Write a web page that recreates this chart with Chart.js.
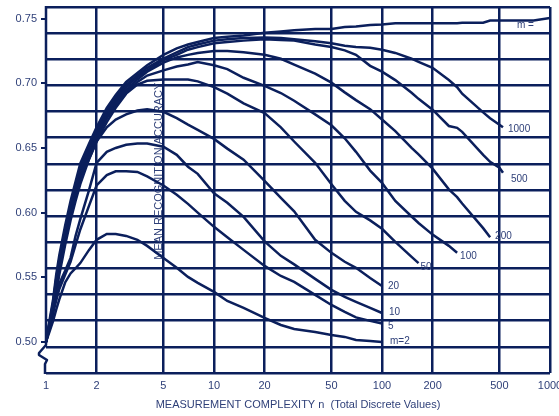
<!DOCTYPE html>
<html>
<head>
<meta charset="utf-8">
<script src="https://cdn.jsdelivr.net/npm/chart.js@4.4.1/dist/chart.umd.min.js"></script>
<style>
  html, body { margin: 0; padding: 0; background: #fff; }
  #wrap { width: 559px; height: 416px; }
</style>
</head>
<body>
<div id="wrap"><canvas id="hughesCanvas" width="559" height="416"></canvas></div>
<script>
// measurement complexity n (shared grid for all curves)
const nValues = [1, 1.05, 1.1, 1.15, 1.2, 1.3, 1.4, 1.5, 1.6, 1.8, 2, 2.3, 2.6, 3, 3.5, 4, 5, 6, 7, 8, 10, 12, 15, 20, 25, 30, 40, 50, 60, 70, 85, 100, 120, 150, 165, 200, 250, 280, 300, 400, 440, 500, 525, 600, 800, 1000];

// mean recognition accuracy, one array per m (null = curve not drawn there)
const accInf  = [0.500, 0.517, 0.532, 0.552, 0.567, 0.590, 0.609, 0.624, 0.638, 0.653, 0.666, 0.681, 0.691, 0.701, 0.708, 0.714, 0.722, 0.727, 0.730, 0.732, 0.735, 0.736, 0.737, 0.739, 0.740, 0.741, 0.742, 0.742, 0.7435, 0.744, 0.745, 0.7455, 0.7465, 0.7465, 0.7465, 0.7465, 0.7465, 0.7465, 0.7468, 0.7469, 0.7485, 0.7485, 0.7485, 0.7485, 0.7485, 0.7505];
const acc1000 = [0.500, 0.515, 0.530, 0.549, 0.564, 0.587, 0.606, 0.621, 0.635, 0.650, 0.664, 0.679, 0.689, 0.699, 0.706, 0.712, 0.719, 0.724, 0.728, 0.730, 0.733, 0.734, 0.735, 0.7355, 0.735, 0.734, 0.7325, 0.731, 0.729, 0.728, 0.7275, 0.726, 0.7235, 0.719, 0.7165, 0.712, 0.7025, 0.697, 0.692, 0.6775, 0.673, 0.668, 0.666, null, null, null];
const acc500  = [0.500, 0.514, 0.529, 0.547, 0.562, 0.585, 0.604, 0.619, 0.633, 0.648, 0.662, 0.677, 0.687, 0.697, 0.705, 0.710, 0.718, 0.722, 0.726, 0.728, 0.731, 0.732, 0.733, 0.734, 0.7335, 0.733, 0.730, 0.728, 0.7255, 0.722, 0.7135, 0.709, 0.7025, 0.6927, 0.688, 0.6796, 0.667, 0.6656, 0.6625, 0.6447, 0.6393, 0.6347, 0.6308, null, null, null];
const acc200  = [0.500, 0.513, 0.527, 0.545, 0.560, 0.583, 0.602, 0.617, 0.631, 0.646, 0.660, 0.675, 0.685, 0.695, 0.703, 0.709, 0.716, 0.720, 0.722, 0.7235, 0.725, 0.725, 0.724, 0.722, 0.719, 0.7145, 0.7075, 0.7005, 0.693, 0.687, 0.680, 0.672, 0.663, 0.650, 0.645, 0.634, 0.618, 0.612, 0.607, 0.588, 0.581, null, null, null, null, null];
const acc100  = [0.500, 0.512, 0.526, 0.544, 0.558, 0.581, 0.600, 0.615, 0.629, 0.644, 0.658, 0.673, 0.683, 0.693, 0.701, 0.706, 0.710, 0.713, 0.7145, 0.7165, 0.714, 0.711, 0.7043, 0.698, 0.6925, 0.6865, 0.676, 0.6675, 0.6575, 0.647, 0.6325, 0.623, 0.609, 0.597, 0.592, 0.583, 0.5743, 0.569, null, null, null, null, null, null, null, null];
const acc50   = [0.500, 0.511, 0.524, 0.541, 0.555, 0.578, 0.597, 0.612, 0.626, 0.641, 0.655, 0.670, 0.681, 0.692, 0.699, 0.702, 0.703, 0.703, 0.703, 0.7015, 0.697, 0.692, 0.6845, 0.677, 0.666, 0.655, 0.6385, 0.622, 0.6091, 0.6006, 0.594, 0.5875, 0.5774, 0.5658, 0.561, null, null, null, null, null, null, null, null, null, null, null];
const acc20   = [0.500, 0.510, 0.522, 0.538, 0.552, 0.575, 0.594, 0.609, 0.622, 0.641, 0.655, 0.666, 0.672, 0.676, 0.679, 0.680, 0.678, 0.673, 0.668, 0.664, 0.657, 0.6495, 0.641, 0.6246, 0.6114, 0.601, 0.579, 0.5689, 0.562, 0.5573, 0.5495, 0.5433, null, null, null, null, null, null, null, null, null, null, null, null, null, null];
const acc10   = [0.500, 0.515, 0.527, 0.538, 0.545, 0.555, 0.565, 0.582, 0.595, 0.617, 0.6385, 0.647, 0.650, 0.6525, 0.6535, 0.6535, 0.651, 0.6447, 0.6355, 0.630, 0.615, 0.6076, 0.5967, 0.5778, 0.5666, 0.560, 0.5488, 0.5403, 0.5348, 0.531, 0.5263, 0.5224, null, null, null, null, null, null, null, null, null, null, null, null, null, null];
const acc5    = [0.500, 0.512, 0.522, 0.532, 0.541, 0.552, 0.562, 0.575, 0.587, 0.605, 0.621, 0.629, 0.632, 0.632, 0.6315, 0.628, 0.621, 0.6138, 0.6068, 0.600, 0.589, 0.581, 0.5712, 0.5588, 0.551, 0.5464, 0.5364, 0.5286, 0.5232, 0.519, 0.5163, 0.5143, null, null, null, null, null, null, null, null, null, null, null, null, null, null];
const acc2    = [0.500, 0.508, 0.516, 0.525, 0.533, 0.546, 0.553, 0.557, 0.561, 0.571, 0.579, 0.5835, 0.5835, 0.582, 0.579, 0.5743, 0.565, 0.5573, 0.5503, 0.5457, 0.5387, 0.5317, 0.5263, 0.5186, 0.5131, 0.510, 0.5077, 0.5054, 0.5039, 0.5015, 0.5008, 0.5000, null, null, null, null, null, null, null, null, null, null, null, null, null, null];

const curveNames = ['m = ', '1000', '500', '200', '100', '50', '20', '10', '5', 'm=2'];
const curveSeries = [accInf, acc1000, acc500, acc200, acc100, acc50, acc20, acc10, acc5, acc2];

const xTickValues = [1, 2, 5, 10, 20, 50, 100, 200, 500, 1000];
const yTickValues = [0.50, 0.55, 0.60, 0.65, 0.70, 0.75];

const NAVY = '#0b1f5c';
const TEXT = '#2e3f78';
const FONT = '"Liberation Sans", Arial, sans-serif';

// label placement relative to each curve's last point
const labelOffsets = [[-33, 7], [5, 2], [8, 6], [5, -1], [3, 4], [2, 4], [6, 0], [7, -1], [6, 3], [8, -1]];

const datasets = curveSeries.map((arr, i) => ({
    label: curveNames[i],
    data: nValues.map((n, k) => ({ x: n, y: arr[k] })).filter(p => p.y !== null),
    borderColor: NAVY,
    borderWidth: 2.5,
    pointRadius: 0,
    fill: false,
    tension: 0,
    yAxisID: 'y'
}));

const extras = {
    id: 'extras',
    beforeDatasetsDraw(chart) {
        const { ctx, scales: { x, y } } = chart;
        ctx.save();
        ctx.translate(x.getPixelForValue(5) - 4, y.getPixelForValue(0.5635));
        ctx.rotate(-Math.PI / 2);
        ctx.font = '11px ' + FONT;
        ctx.fillStyle = TEXT;
        ctx.textAlign = 'left';
        ctx.textBaseline = 'middle';
        ctx.fillText('MEAN RECOGNITION ACCURACY', 0, 0);
        ctx.restore();
    },
    afterDatasetsDraw(chart) {
        const ctx = chart.ctx;
        ctx.save();
        ctx.font = '10px ' + FONT;
        ctx.fillStyle = TEXT;
        ctx.textAlign = 'left';
        ctx.textBaseline = 'middle';
        chart.data.datasets.forEach((ds, i) => {
            const pts = chart.getDatasetMeta(i).data;
            const last = pts[pts.length - 1];
            ctx.fillText(ds.label, last.x + labelOffsets[i][0], last.y + labelOffsets[i][1]);
        });
        ctx.restore();
    },
    afterDraw(chart) {
        // left frame with the axis break
        const { ctx, chartArea: { left: L, top: T, bottom: B } } = chart;
        ctx.save();
        ctx.strokeStyle = NAVY;
        ctx.lineWidth = 2.5;
        ctx.lineJoin = 'round';
        ctx.beginPath();
        ctx.moveTo(L, T - 1);
        ctx.lineTo(L, B - 28);
        ctx.lineTo(L - 7, B - 20);
        ctx.lineTo(L - 7, B - 18);
        ctx.lineTo(L + 1, B - 13);
        ctx.lineTo(L - 1, B - 9);
        ctx.lineTo(L - 1, B + 1);
        ctx.stroke();
        ctx.restore();
    }
};

new Chart(document.getElementById('hughesCanvas'), {
    type: 'line',
    data: { datasets: datasets },
    plugins: [extras],
    options: {
        responsive: false,
        animation: false,
        devicePixelRatio: 1,
        layout: { padding: { top: 7, right: 9, bottom: 0, left: 0 } },
        plugins: { legend: { display: false }, tooltip: { enabled: false } },
        scales: {
            x: {
                type: 'logarithmic',
                min: 1,
                max: 1000,
                afterBuildTicks: s => { s.ticks = xTickValues.map(v => ({ value: v })); },
                afterFit: s => { s.height = 43; s.paddingLeft = 0; s.paddingRight = 0; },
                ticks: {
                    callback: v => String(v),
                    autoSkip: false,
                    maxRotation: 0,
                    padding: 6,
                    color: TEXT,
                    font: { family: FONT, size: 11 }
                },
                grid: {
                    color: c => (c.tick && c.tick.value === 1) ? 'rgba(0,0,0,0)' : NAVY,
                    lineWidth: 2.5,
                    drawTicks: false
                },
                border: { display: false },
                title: {
                    display: true,
                    text: 'MEASUREMENT COMPLEXITY n  (Total Discrete Values)',
                    color: TEXT,
                    font: { family: FONT, size: 11 },
                    padding: { top: 0, bottom: 4 }
                }
            },
            y: {
                type: 'linear',
                position: 'left',
                min: 0.476,
                max: 0.759,
                afterBuildTicks: s => { s.ticks = yTickValues.map(v => ({ value: v })); },
                afterFit: s => { s.width = 46; s.paddingTop = 0; s.paddingBottom = 0; },
                ticks: {
                    callback: v => v.toFixed(2),
                    padding: 4,
                    color: TEXT,
                    font: { family: FONT, size: 11 }
                },
                grid: { drawOnChartArea: false, tickLength: 5, color: NAVY, lineWidth: 2 },
                border: { display: false }
            },
            yg: {
                type: 'linear',
                position: 'left',
                min: 0,
                max: 14,
                afterBuildTicks: s => { s.ticks = Array.from({ length: 15 }, (_, i) => ({ value: i })); },
                afterFit: s => { s.width = 0; s.paddingTop = 0; s.paddingBottom = 0; },
                ticks: { display: false },
                grid: { color: NAVY, lineWidth: 2.5, drawTicks: false },
                border: { display: false }
            }
        }
    }
});
</script>
</body>
</html>
